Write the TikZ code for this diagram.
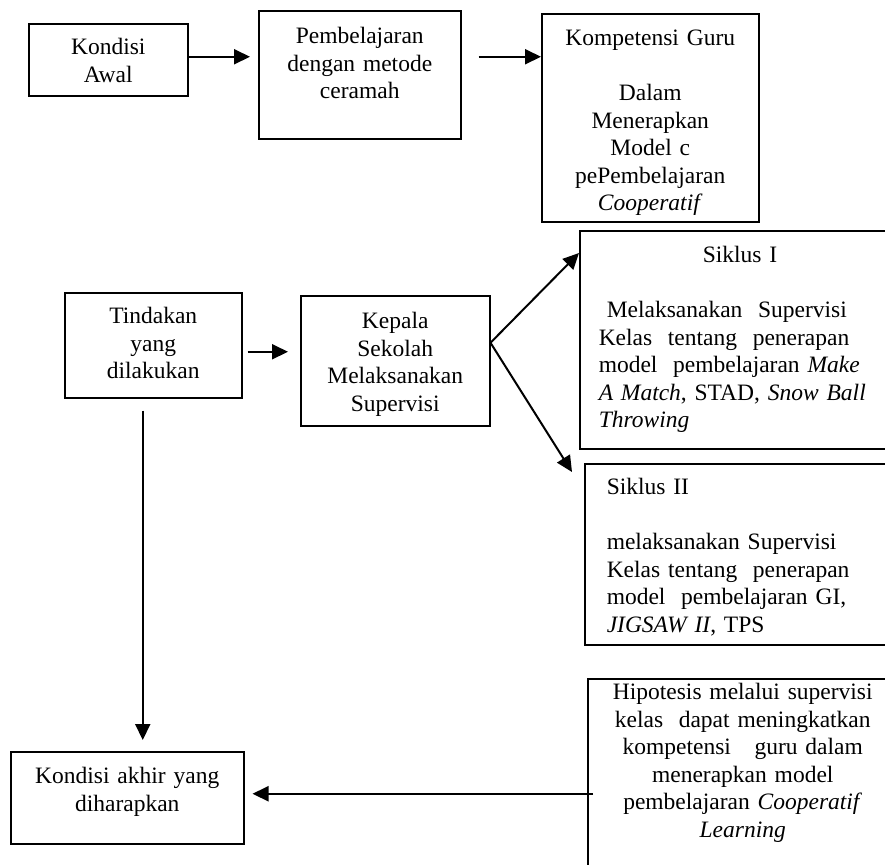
\documentclass[tikz,border=0pt]{standalone}
\usepackage{fontspec}
\setmainfont{Liberation Serif}
\usetikzlibrary{arrows.meta}
\begin{document}
\begin{tikzpicture}[
    x=0.5pt, y=-0.5pt,
    box/.style={draw, line width=0.75pt, inner sep=0pt, align=center, anchor=north west,
        font=\fontsize{11.75pt}{13.75pt}\selectfont},
    sidebox/.style={box, align=left},
    arrow/.style={-{Triangle[length=8pt, width=7.5pt]}, line width=1pt}
]
\useasboundingbox (0,0) rectangle (885,864);
\clip (0,0) rectangle (885,864);

% Top row: initial condition
\node[box, text width=79.5pt, text height=15.5pt, text depth=20.5pt] (kondisiawal) at (28,23) {Kondisi\\Awal};
\node[box, text width=101pt, text height=16.5pt, text depth=47.5pt] (pembelajaran) at (258,10) {Pembelajaran\\dengan metode\\ceramah};
\node[box, text width=108.5pt, text height=16pt, text depth=88pt] (kompetensi) at (541,13) {Kompetensi Guru\\[13.75pt]Dalam\\Menerapkan\\Model c\\pePembelajaran\\\textit{Cooperatif}};

% Middle row: action
\node[box, text width=88.5pt, text height=15.5pt, text depth=37pt] (tindakan) at (64,292) {Tindakan\\yang\\dilakukan};
\node[box, text width=94.5pt, text height=16.5pt, text depth=48.5pt] (kepala) at (300,295) {Kepala\\Sekolah\\Melaksanakan\\Supervisi};
\node[sidebox, inner xsep=9.5pt, text width=150pt, text height=16pt, text depth=93pt] (siklussatu) at (579,230) {\hspace*{52pt}Siklus I\\[13.75pt]
\hspace*{4pt}Melaksanakan\ \ Supervisi\\
Kelas\ \ tentang\ \ penerapan\\
model\ \ pembelajaran \textit{Make}\\
\textit{A Match}, STAD, \textit{Snow Ball}\\
\textit{Throwing}};
\node[sidebox, inner xsep=11pt, text width=150pt, text height=15.5pt, text depth=75pt] (siklusdua) at (584,463) {Siklus II\\[13.75pt]
melaksanakan Supervisi\\
Kelas tentang\ \ penerapan\\
model\ \ pembelajaran GI,\\
\textit{JIGSAW II}, TPS};

% Bottom row: expected condition
\node[box, inner xsep=5pt, text width=145pt, text height=10.5pt, text depth=95pt] (hipotesis) at (587,678) {Hipotesis melalui supervisi\\
kelas\ \ dapat meningkatkan\\
kompetensi\ \ \ guru dalam\\
menerapkan model\\
pembelajaran \textit{Cooperatif}\\
\textit{Learning}};
\node[box, text width=116.5pt, text height=16pt, text depth=30pt] (kondisiakhir) at (10,751) {Kondisi akhir yang\\diharapkan};

\coordinate (toprow) at ([yshift=1.5pt]kondisiawal.east);
\coordinate (midrow) at ([yshift=-3.25pt]tindakan.east);
\coordinate (split) at ([yshift=9pt]kepala.east);
\coordinate (drop) at ([xshift=-5.25pt, yshift=-6pt]tindakan.south);
\coordinate (back) at (hipotesis.west |- kondisiakhir.east);

\draw[arrow, shorten >=4pt] (toprow) -- (toprow -| pembelajaran.west);
\draw[arrow, shorten <=8.5pt] (toprow -| pembelajaran.east) -- (toprow -| kompetensi.west);
\draw[arrow, shorten <=2.5pt, shorten >=6pt] (midrow) -- (midrow -| kepala.west);
\draw[arrow] (split) -- ([yshift=-11.5pt]siklussatu.north west);
\draw[arrow] (split) -- ([xshift=-6pt, yshift=-4.5pt]siklusdua.north west);
\draw[arrow, shorten >=5.5pt] (drop) -- (drop |- kondisiakhir.north);
\draw[arrow, shorten >=4pt] ([shift={(3pt,2pt)}]back) -- ([yshift=2pt]kondisiakhir.east);

\end{tikzpicture}
\end{document}
